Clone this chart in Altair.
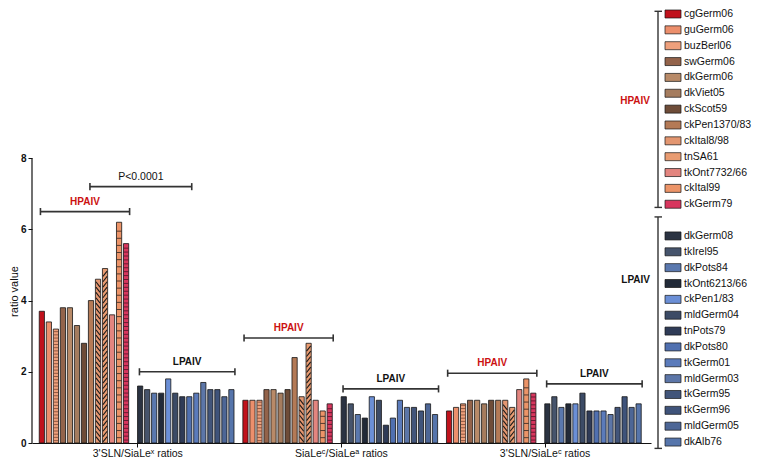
import json
import altair as alt
import pandas as pd

# ---------------- data ----------------
hpaiv_strains = ["cgGerm06", "guGerm06", "buzBerl06", "swGerm06", "dkGerm06", "dkViet05",
                 "ckScot59", "ckPen1370/83", "ckItal8/98", "tnSA61", "tkOnt7732/66",
                 "ckItal99", "ckGerm79"]
lpaiv_strains = ["dkGerm08", "tkIrel95", "dkPots84", "tkOnt6213/66", "ckPen1/83", "mldGerm04",
                 "tnPots79", "dkPots80", "tkGerm01", "mldGerm03", "tkGerm95", "tkGerm96",
                 "mldGerm05", "dkAlb76"]
group_labels = ["3'SLN/SiaLeˣ ratios", "SiaLeᶜ/SiaLeᵃ ratios", "3'SLN/SiaLeᶜ ratios"]

hpaiv_g1 = [3.7, 3.4, 3.2, 3.8, 3.8, 3.3, 2.8, 4.0, 4.6, 4.9, 3.6, 6.2, 5.6]
lpaiv_g1 = [1.6, 1.5, 1.4, 1.4, 1.8, 1.4, 1.3, 1.3, 1.4, 1.7, 1.5, 1.5, 1.3, 1.5]
hpaiv_g2 = [1.2, 1.2, 1.2, 1.5, 1.5, 1.4, 1.5, 2.4, 1.3, 2.8, 1.2, 0.9, 1.1]
lpaiv_g2 = [1.3, 1.1, 0.8, 0.7, 1.3, 1.2, 0.5, 0.7, 1.2, 1.0, 1.0, 0.9, 1.1, 0.8]
hpaiv_g3 = [0.9, 1.0, 1.1, 1.2, 1.2, 1.1, 1.2, 1.2, 1.2, 1.0, 1.5, 1.8, 1.4]
lpaiv_g3 = [1.1, 1.3, 1.0, 1.1, 1.1, 1.4, 0.9, 0.9, 0.9, 0.8, 1.0, 1.3, 1.0, 1.1]

# bracket heights (HPAIV, LPAIV) per group, and the P-value bracket
hpaiv_bracket_y = [6.5, 2.95, 1.96]
lpaiv_bracket_y = [2.0, 1.52, 1.66]
p_bracket_y = 7.2
p_label = "P<0.0001"

hpaiv_colors = ["#c0121c", "#ec8f6c", "#eea07c", "#93634a", "#b88a68", "#a57c5e",
                "#6e4c38", "#b47a56", "#e39670", "#e99c72", "#e3857f", "#ec9468", "#d8365e"]
lpaiv_colors = ["#2b3342", "#46546c", "#5a78ae", "#222a38", "#6b8fd6", "#3c4b66",
                "#2f3b57", "#5070b0", "#5b7bbb", "#5c76a8", "#42557a", "#3f537a",
                "#4d6696", "#5675ab"]

# horizontal hatch styles (spacing in data units, line colour, line thickness px)
hatch_strains = ["buzBerl06", "ckItal99", "ckGerm79"]
hatch_step = [0.09, 0.2, 0.11]
hatch_color = ["#6a3a2a", "#151515", "#3a1020"]
hatch_width = [0.8, 2.6, 1.0]

# diagonal hatch styles (direction +1 = "/", -1 = "\")
diag_strains = ["ckItal8/98", "tnSA61"]
diag_dir = [-1, 1]
diag_step = 0.15

# ---------------- tables ----------------
hp_vals = [hpaiv_g1, hpaiv_g2, hpaiv_g3]
lp_vals = [lpaiv_g1, lpaiv_g2, lpaiv_g3]
n_h, n_l = len(hpaiv_strains), len(lpaiv_strains)
per_group = n_h + 1 + n_l + 1

rows = []
for g in range(3):
    base = g * per_group
    for i, (s, v) in enumerate(zip(hpaiv_strains, hp_vals[g])):
        rows.append({"strain": s, "slot": base + i, "value": v})
    for j, (s, v) in enumerate(zip(lpaiv_strains, lp_vals[g])):
        rows.append({"strain": s, "slot": base + n_h + 1 + j, "value": v})
bars_df = pd.DataFrame(rows)

# stripes inside hatched bars, derived from the bar values
stripes, diags = [], []
for _, r in bars_df.iterrows():
    if r.strain in hatch_strains:
        k = hatch_strains.index(r.strain)
        step = hatch_step[k]
        y = step * 0.75
        while y < r.value - step * 0.4:
            stripes.append({"slot": r.slot, "y": y, "hs": r.strain})
            y += step
    if r.strain in diag_strains:
        d = diag_dir[diag_strains.index(r.strain)]
        y = 0.03
        while y + diag_step < r.value - 0.02:
            diags.append({"xa": r.slot - 0.3 * d, "xb": r.slot + 0.3 * d,
                          "ya": y, "yb": y + diag_step})
            y += diag_step
stripes_df = pd.DataFrame(stripes)
diags_df = pd.DataFrame(diags)

brk = []
for g in range(3):
    base = g * per_group
    brk.append({"x1": base - 0.2, "x2": base + n_h - 1 + 0.5, "y": hpaiv_bracket_y[g],
                "label": "HPAIV", "color": "#cc1111"})
    brk.append({"x1": base + n_h + 1 - 0.1, "x2": base + n_h + n_l + 0.5, "y": lpaiv_bracket_y[g],
                "label": "LPAIV", "color": "#111111"})
brk_df = pd.DataFrame(brk)
brk_df["xm"] = (brk_df.x1 + brk_df.x2) / 2

p_df = pd.DataFrame([{"x1": (n_h - 1) / 2 + 0.85, "x2": n_h + 1 + (n_l - 1) / 2 + 0.85,
                      "y": p_bracket_y, "label": p_label}])
p_df["xm"] = (p_df.x1 + p_df.x2) / 2

all_br = pd.concat([brk_df[["x1", "x2", "y"]], p_df[["x1", "x2", "y"]]])
caps = []
for _, r in all_br.iterrows():
    for xx in (r.x1, r.x2):
        caps.append({"x": xx, "ylo": r.y - 0.1, "yhi": r.y + 0.1})
caps_df = pd.DataFrame(caps)

tick_vals = [g * per_group + n_h + 0.6 for g in range(3)]
label_expr = ("datum.value < %f ? %s : (datum.value < %f ? %s : %s)"
              % (per_group, json.dumps(group_labels[0]), 2 * per_group,
                 json.dumps(group_labels[1]), json.dumps(group_labels[2])))

all_strains = hpaiv_strains + lpaiv_strains
all_colors = hpaiv_colors + lpaiv_colors
fill_scale = alt.Scale(domain=all_strains, range=all_colors)

FONT = "Liberation Sans"
W, H = 619, 434

xs = alt.Scale(domain=[-0.69, 86.05], nice=False, zero=False)
ys = alt.Scale(domain=[0, 12.19], nice=False)

bars = alt.Chart(bars_df).mark_bar(orient="vertical", size=5.2, stroke="#151515",
                                   strokeWidth=0.8).encode(
    x=alt.X("slot:Q", scale=xs,
            axis=alt.Axis(values=tick_vals, labelExpr=label_expr, title=None, grid=False,
                          domainColor="#111", domainWidth=1.2, tickColor="#111", tickSize=4,
                          labelFont=FONT, labelFontSize=10.5, labelColor="#111",
                          labelPadding=1, labelFlush=False, labelOverlap=False)),
    y=alt.Y("value:Q", scale=ys,
            axis=alt.Axis(values=[0, 2, 4, 6, 8], domain=False, grid=False, tickColor="#111",
                          tickSize=4, labelFont=FONT, labelFontSize=10, labelFontWeight="bold",
                          labelColor="#111", labelPadding=2, title="ratio value",
                          titleFont=FONT, titleFontSize=11, titleFontWeight="normal",
                          titleColor="#111", titleX=-13, titleY=282)),
    fill=alt.Fill("strain:N", scale=fill_scale, legend=None),
)

hatch = alt.Chart(stripes_df).mark_tick(orient="horizontal", size=4.6).encode(
    x=alt.X("slot:Q", scale=xs),
    y=alt.Y("y:Q", scale=ys),
    color=alt.Color("hs:N", scale=alt.Scale(domain=hatch_strains, range=hatch_color), legend=None),
    strokeWidth=alt.StrokeWidth("hs:N", scale=alt.Scale(domain=hatch_strains, range=hatch_width),
                                legend=None),
)

diag = alt.Chart(diags_df).mark_rule(color="#1a1a1a", strokeWidth=1.1).encode(
    x=alt.X("xa:Q", scale=xs), x2="xb:Q", y=alt.Y("ya:Q", scale=ys), y2="yb:Q")

yaxis_line = alt.Chart(pd.DataFrame({"y0": [0], "y1": [8]})).mark_rule(
    color="#111", strokeWidth=1.2).encode(x=alt.value(0), y=alt.Y("y0:Q", scale=ys), y2="y1:Q")

br_lines = alt.Chart(all_br).mark_rule(color="#333", strokeWidth=1.6).encode(
    x=alt.X("x1:Q", scale=xs), x2="x2:Q", y=alt.Y("y:Q", scale=ys))
br_caps = alt.Chart(caps_df).mark_rule(color="#333", strokeWidth=1.6).encode(
    x=alt.X("x:Q", scale=xs), y=alt.Y("ylo:Q", scale=ys), y2="yhi:Q")
br_text = alt.Chart(brk_df).mark_text(font=FONT, fontSize=10, fontWeight="bold",
                                      baseline="bottom", dy=-5).encode(
    x=alt.X("xm:Q", scale=xs), y=alt.Y("y:Q", scale=ys), text="label:N",
    color=alt.Color("color:N", scale=None))
p_text = alt.Chart(p_df).mark_text(font=FONT, fontSize=10.5, color="#111",
                                   baseline="bottom", dy=-5).encode(
    x=alt.X("xm:Q", scale=xs), y=alt.Y("y:Q", scale=ys), text="label:N")

main = alt.layer(bars, hatch, diag, yaxis_line, br_lines, br_caps, br_text, p_text).properties(
    width=W, height=H)

# ---------------- legend panel ----------------
leg_rows = []
for i, s in enumerate(hpaiv_strains):
    leg_rows.append({"strain": s, "idx": i})
for j, s in enumerate(lpaiv_strains):
    leg_rows.append({"strain": s, "idx": n_h + 1 + j})
leg_df = pd.DataFrame(leg_rows)

lys = alt.Scale(domain=[-0.315, 27.06], reverse=True, nice=False, zero=False)
h_first, h_last = 0, n_h - 1
l_first, l_last = n_h + 1, n_h + n_l
grp_df = pd.DataFrame([
    {"top": h_first - 0.17, "bottom": h_last + 0.2, "mid": h_first + 5.5,
     "label": "HPAIV", "color": "#cc1111"},
    {"top": l_first - 1.2, "bottom": l_last + 0.4, "mid": l_first + 2.8,
     "label": "LPAIV", "color": "#111111"},
])
grp_caps = pd.DataFrame({"idx": list(grp_df.top) + list(grp_df.bottom)})

swatch = alt.Chart(leg_df).mark_point(shape="M-1,-0.5H1V0.5H-1Z", size=256, filled=True,
                                      opacity=1, stroke="#151515", strokeWidth=0.7).encode(
    x=alt.value(22), y=alt.Y("idx:Q", scale=lys, axis=None),
    fill=alt.Fill("strain:N", scale=fill_scale, legend=None))
leg_text = alt.Chart(leg_df).mark_text(font=FONT, fontSize=10.5, align="left",
                                       baseline="middle", color="#111").encode(
    x=alt.value(33), y=alt.Y("idx:Q", scale=lys, axis=None), text="strain:N")
grp_line = alt.Chart(grp_df).mark_rule(color="#333", strokeWidth=1.4).encode(
    x=alt.value(7), y=alt.Y("top:Q", scale=lys, axis=None), y2="bottom:Q")
grp_cap = alt.Chart(grp_caps).mark_rule(color="#333", strokeWidth=1.4).encode(
    x=alt.value(3.5), x2=alt.value(11), y=alt.Y("idx:Q", scale=lys, axis=None))
grp_text = alt.Chart(grp_df).mark_text(font=FONT, fontSize=10, fontWeight="bold",
                                       align="right", baseline="middle").encode(
    x=alt.value(-1), y=alt.Y("mid:Q", scale=lys, axis=None), text="label:N",
    color=alt.Color("color:N", scale=None))

legend = alt.layer(grp_line, grp_cap, swatch, leg_text, grp_text).properties(
    width=95, height=H)

chart = alt.hconcat(main, legend, spacing=0, bounds="flush").resolve_scale(
    x="independent", y="independent", fill="shared").properties(
    padding=0, background="white").configure_view(stroke=None)

chart.save("out.html", embed_options={"renderer": "svg", "actions": False})
